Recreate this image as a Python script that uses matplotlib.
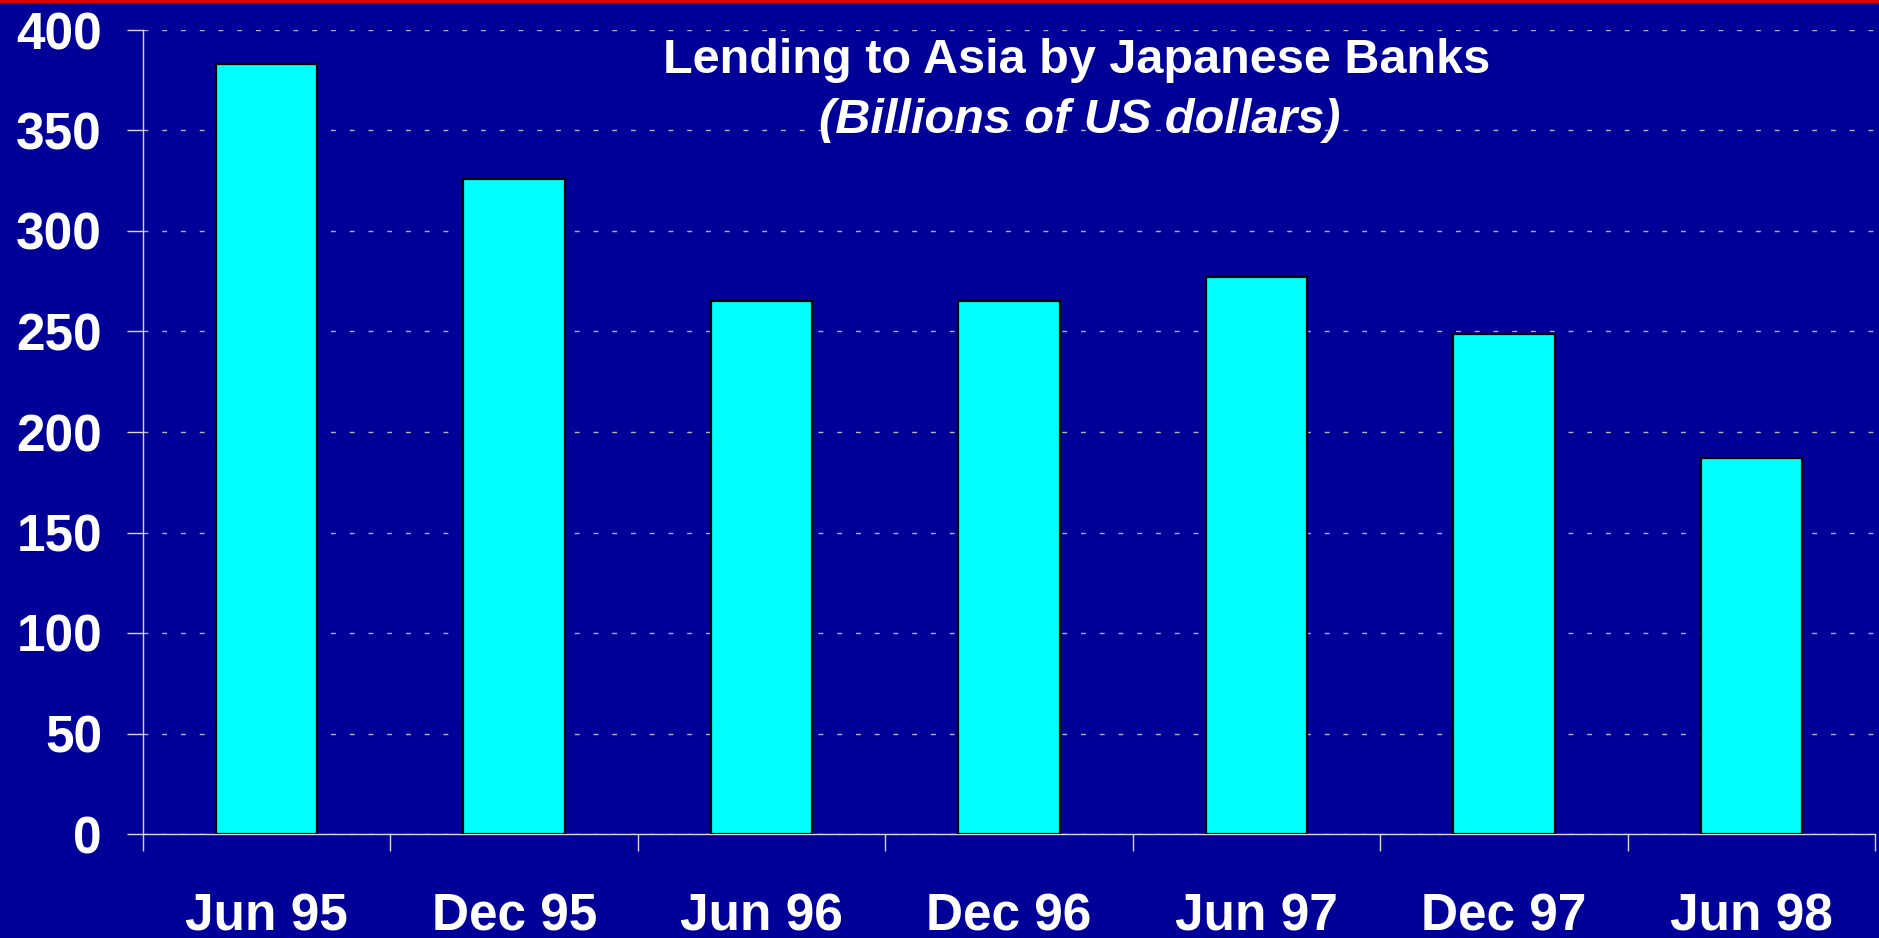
import matplotlib
matplotlib.use("Agg")
import matplotlib.pyplot as plt
from matplotlib.patches import Rectangle

periods = ["Jun 95", "Dec 95", "Jun 96", "Dec 96", "Jun 97", "Dec 97", "Jun 98"]
lending = [383, 326, 265, 265, 277, 249, 187]
y_ticks = [0, 50, 100, 150, 200, 250, 300, 350, 400]

bg = "#000099"
plt.rcParams["font.family"] = ["Liberation Sans", "DejaVu Sans"]

fig = plt.figure(figsize=(18.79, 9.38), dpi=100, facecolor=bg)
ax = fig.add_axes([143 / 1879, 1 - 834 / 938, (1875 - 143) / 1879, (834 - 30) / 938])
ax.set_facecolor(bg)

x = list(range(len(periods)))
ax.bar(x, lending, width=0.41, color="#00ffff", edgecolor="black", linewidth=1.6, zorder=3)

ax.set_xlim(-0.5, len(periods) - 0.5)
ax.set_ylim(0, 400)
ax.set_yticks(y_ticks)
ax.set_yticklabels([str(v) for v in y_ticks], fontsize=37, fontweight="bold", color="white")
ax.set_xticks(x)
ax.set_xticklabels(periods, fontsize=37, fontweight="bold", color="white")
ax.set_xticks([i - 0.5 for i in range(len(periods) + 1)], minor=True)

ax.tick_params(axis="x", which="major", length=0, pad=42)
ax.tick_params(axis="x", which="minor", length=12, width=1, color="#d8d8d8", direction="out")
ax.tick_params(axis="y", length=11.5, width=1, color="#d8d8d8", pad=18)

ax.yaxis.grid(True, color="#b0b0c8", linewidth=1, linestyle=(0, (3.5, 10)), zorder=0)
ax.set_axisbelow(True)

for side in ["top", "right"]:
    ax.spines[side].set_visible(False)
for side in ["left", "bottom"]:
    ax.spines[side].set_color("#d8d8d8")
    ax.spines[side].set_linewidth(1)

# title inside the plot area
fig.text(1077 / 1879, 1 - 73 / 938, "Lending to Asia by Japanese Banks", ha="center",
         va="baseline", fontsize=35, fontweight="bold", color="white")
fig.text(1080 / 1879, 1 - 133 / 938, "(Billions of US dollars)", ha="center",
         va="baseline", fontsize=35, fontweight="bold", fontstyle="italic", color="white")

# thin red strip along the top edge
fig.patches.append(Rectangle((0, 1 - 3 / 938), 1, 3 / 938, transform=fig.transFigure,
                             facecolor="#e00000", edgecolor="none"))

fig.savefig("out.png", dpi=100, facecolor=bg)
